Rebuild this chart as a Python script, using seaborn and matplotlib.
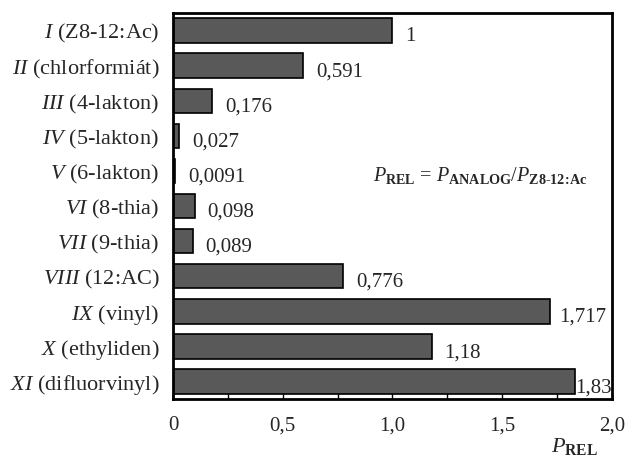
import pandas as pd
import seaborn as sns
import matplotlib.pyplot as plt
from matplotlib.ticker import MultipleLocator

sns.set_style("white")
plt.rcParams['font.family'] = ['Liberation Serif', 'DejaVu Serif']
plt.rcParams['mathtext.fontset'] = 'custom'
plt.rcParams['mathtext.rm'] = 'Liberation Serif'
plt.rcParams['mathtext.it'] = 'Liberation Serif:italic'
plt.rcParams['mathtext.bf'] = 'Liberation Serif:bold'

numerals = ["I", "II", "III", "IV", "V", "VI", "VII", "VIII", "IX", "X", "XI"]
names = ["(Z8-12:Ac)", "(chlorformiát)", "(4-lakton)", "(5-lakton)", "(6-lakton)",
         "(8-thia)", "(9-thia)", "(12:AC)", "(vinyl)", "(ethyliden)", "(difluorvinyl)"]
p_rel = [1, 0.591, 0.176, 0.027, 0.0091, 0.098, 0.089, 0.776, 1.717, 1.18, 1.83]
value_labels = ["1", "0,591", "0,176", "0,027", "0,0091", "0,098", "0,089",
                "0,776", "1,717", "1,18", "1,83"]

data = pd.DataFrame({"id": numerals, "p": p_rel})

fig = plt.figure(figsize=(6.26, 4.66), dpi=100)
ax = fig.add_axes([0.2764, 0.1438, 0.701, 0.828])

sns.barplot(data=data, x="p", y="id", orient="h", color="#595959",
            edgecolor="black", linewidth=1.2, width=0.7, saturation=1, ax=ax)

# value labels right of bars
for i, (v, lab) in enumerate(zip(p_rel, value_labels)):
    dx = 9.5
    if i == 10:
        dx = 0.5
    elif i == 8:
        dx = 6.5
    elif i == 9:
        dx = 8.5
    ax.annotate(lab, (v, i), xytext=(dx, -4.5), textcoords="offset points",
                ha="left", va="center", fontsize=15)

ax.set_xlim(0, 2.0)
ax.set_ylim(10.5, -0.5)
ax.xaxis.set_major_locator(MultipleLocator(0.5))
ax.xaxis.set_minor_locator(MultipleLocator(0.25))
ax.set_xticks([0, 0.5, 1.0, 1.5, 2.0])
ax.set_xticklabels(["0", "0,5", "1,0", "1,5", "2,0"], fontsize=15)
ax.tick_params(axis="x", which="both", direction="in", length=4, width=1,
               bottom=True, pad=12.5, color="black")
ax.tick_params(axis="y", length=0, pad=10)
ax.set_yticks(range(len(numerals)))
ax.set_yticklabels([r"$\mathit{%s}$ %s" % (n, s) for n, s in zip(numerals, names)],
                   fontsize=16)
ax.set_ylabel("")
ax.set_xlabel(r"$\mathit{P}_{\mathbf{REL}}$", fontsize=16)
ax.xaxis.set_label_coords(0.916, -0.095)

for sp in ax.spines.values():
    sp.set_color("black")
    sp.set_linewidth(2)

ax.text(0.456, 0.58,
        r"$\mathit{P}_{\mathbf{REL}}$ = $\mathit{P}_{\mathbf{ANALOG}}$/$\mathit{P}_{\mathbf{Z8‐12}\!\mathbf{:}\!\mathbf{Ac}}$",
        transform=ax.transAxes, fontsize=14.5, ha="left", va="center")

fig.savefig("out.png", dpi=100)
